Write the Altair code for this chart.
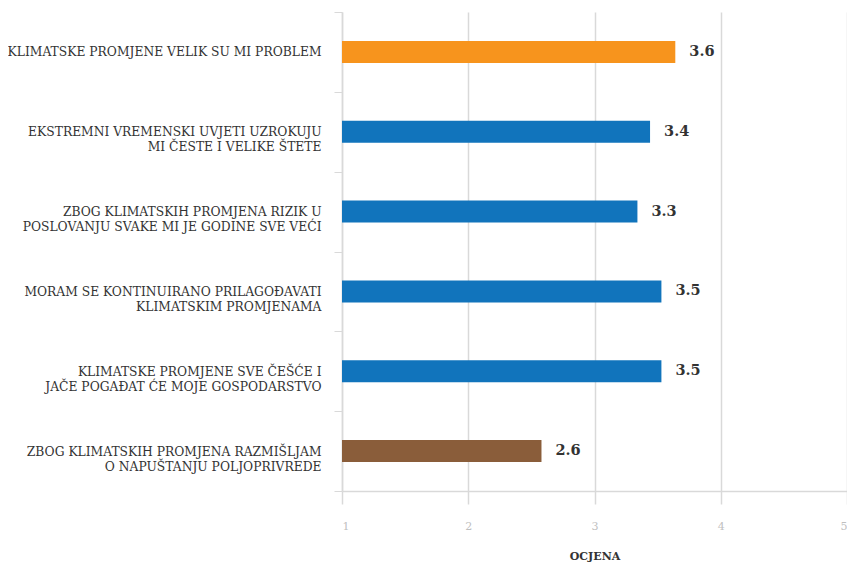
import altair as alt
import pandas as pd

categories = [
    "KLIMATSKE PROMJENE VELIK SU MI PROBLEM",
    "EKSTREMNI VREMENSKI UVJETI UZROKUJU|MI ČESTE I VELIKE ŠTETE",
    "ZBOG KLIMATSKIH PROMJENA RIZIK U|POSLOVANJU SVAKE MI JE GODINE SVE VEĆI",
    "MORAM SE KONTINUIRANO PRILAGOĐAVATI|KLIMATSKIM PROMJENAMA",
    "KLIMATSKE PROMJENE SVE ČEŠĆE I|JAČE POGAĐAT ĆE MOJE GOSPODARSTVO",
    "ZBOG KLIMATSKIH PROMJENA RAZMIŠLJAM|O NAPUŠTANJU POLJOPRIVREDE",
]
values = [3.64, 3.44, 3.34, 3.53, 3.53, 2.58]
colors = ["#F7941D", "#1174BC", "#1174BC", "#1174BC", "#1174BC", "#8A5D3A"]
x_ticks = [1, 2, 3, 4, 5]

df = pd.DataFrame({"cat": categories, "val": values, "color": colors})

FONT = "DejaVu Serif"

y_enc = alt.Y(
    "cat:N",
    sort=categories,
    title=None,
    scale=alt.Scale(paddingInner=0.0, paddingOuter=0.0),
    axis=alt.Axis(
        labelExpr="split(datum.label, '|')",
        labelFont=FONT,
        labelFontSize=12.3,
        labelColor="#333333",
        labelLineHeight=15,
        labelPadding=13,
        labelLimit=400,
        tickBand="extent",
        tickSize=8,
        tickColor="#d9d9d9",
        domainColor="#d9d9d9",
        domainWidth=1.5,
        grid=False,
    ),
)

x_enc = alt.X(
    "val:Q",
    scale=alt.Scale(domain=[1, 5], zero=False, nice=False),
    title="OCJENA",
    axis=alt.Axis(
        values=x_ticks,
        format="d",
        labelFont=FONT,
        labelFontSize=11,
        labelColor="#bfbfbf",
        labelPadding=16,
        tickSize=13,
        tickColor="#d9d9d9",
        tickWidth=1.5,
        domainColor="#d9d9d9",
        domainWidth=1.5,
        gridColor="#d9d9d9",
        gridWidth=1.5,
        titleFont=FONT,
        titleFontSize=11,
        titleFontWeight="bold",
        titleColor="#333333",
        titlePadding=19,
    ),
)

bars = alt.Chart(df).mark_bar(size=22).encode(
    x=x_enc,
    x2=alt.datum(1),
    y=y_enc,
    color=alt.Color("color:N", scale=None),
)

text = alt.Chart(df).mark_text(
    align="left", baseline="middle", dx=14, font=FONT, fontSize=14.5,
    fontWeight="bold", color="#333333"
).encode(
    x=alt.X("val:Q"),
    y=alt.Y("cat:N", sort=categories),
    text=alt.Text("val:Q", format=".1f"),
)

chart = (bars + text).properties(
    width=505, height=479,
    autosize=alt.AutoSizeParams(type="none"),
    padding={"left": 334, "top": 4, "right": 0, "bottom": 76},
).configure_view(stroke=None)

chart.save("out.html", embed_options={"renderer": "svg", "actions": False})
